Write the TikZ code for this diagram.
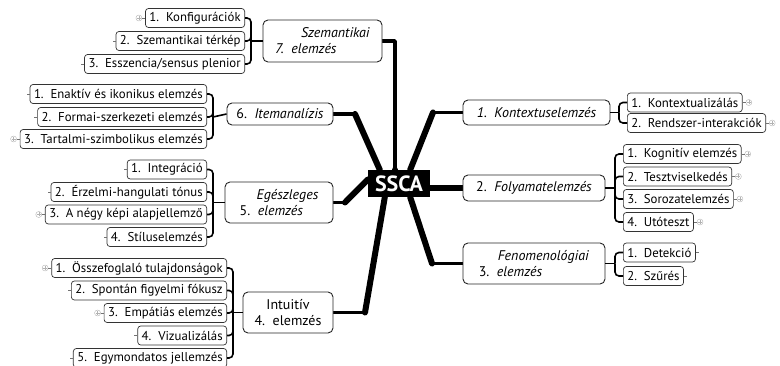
\documentclass[tikz,border=0pt]{standalone}
\usepackage{fontspec}
\setmainfont{PT Sans}
\usetikzlibrary{positioning,backgrounds}
\begin{document}
\begin{tikzpicture}[x=1pt,y=-1pt,
	raiz/.style={fill=black,text=white,font=\fontsize{22}{24}\selectfont\bfseries,inner sep=2pt,minimum width=62pt,minimum height=27pt},
	rama/.style={draw=black!85,line width=0.9pt,rounded corners=5pt,fill=white,font=\fontsize{14}{16}\selectfont,inner xsep=5pt,inner ysep=2pt},
	hoja/.style={draw=black!80,line width=0.7pt,rounded corners=3pt,fill=white,font=\fontsize{12.8}{14}\selectfont,inner xsep=4pt,inner ysep=1pt,minimum height=19pt},
	tronco/.style={line width=3.5pt,line join=round,line cap=round},
	cuna/.style={line width=6pt,line cap=round},
	llave/.style={line width=1.6pt,rounded corners=4pt},
	mas/.style={circle,draw=black!30,line width=0.4pt,minimum size=6pt,inner sep=0pt,
		path picture={\draw[black!30,line width=0.4pt]
			([xshift=-2pt]path picture bounding box.center) -- ([xshift=2pt]path picture bounding box.center)
			([yshift=-2pt]path picture bounding box.center) -- ([yshift=2pt]path picture bounding box.center);}},
	rabito/.style={draw=black!55,line width=0.5pt}]
	\useasboundingbox (0,0) rectangle (780,366);
	% Centro
		\node[raiz] (ssca) at (399,183.5) {SSCA};
	% Ramas principales
		\node[rama,minimum width=119pt,minimum height=42pt,align=left] (n7) at (322.5,41) {\hspace*{26pt}\textit{Szemantikai}\\\textit{7.\ \ elemzés}};
		\node[rama,minimum width=106pt,minimum height=22pt] (n6) at (280,114) {6.\ \ \textit{Itemanalízis}};
		\node[rama,minimum width=108pt,minimum height=41pt,align=left] (n5) at (279,202.5) {\hspace*{17pt}\textit{Egészleges}\\5.\ \ \textit{elemzés}};
		\node[rama,minimum width=90pt,minimum height=41pt,align=center] (n4) at (288,312.5) {Intuitív\\4.\ \ elemzés};
		\node[rama,minimum width=147pt,minimum height=25pt] (n1) at (536.5,112.5) {\textit{1.\ \ Kontextuselemzés}};
		\node[rama,minimum width=142pt,minimum height=26pt] (n2) at (534,188) {2.\ \ \textit{Folyamatelemzés}};
		\node[rama,minimum width=142pt,minimum height=41pt,align=left] (n3) at (534,263.5) {\hspace*{19pt}\textit{Fenomenológiai}\\3.\ \ \textit{elemzés}};
	% Troncos
		\coordinate (c7) at (395,41);
		\coordinate (c6) at (355,114);
		\coordinate (c5) at (345,202.5);
		\coordinate (c4) at (365,312.5);
		\coordinate (c1) at (433,112.5);
		\coordinate (c3) at (432,263.5);
		\begin{scope}[on background layer]
		\draw[tronco] (n7.east) -- (c7) -- (c7 |- ssca.north);
		\draw[cuna] ([yshift=-20pt]c7 |- ssca.north) -- (c7 |- ssca.north);
		\draw[tronco] (n6.east) -- (c6);
		\draw[cuna] (c6) -- ([xshift=12pt]ssca.north west);
		\draw[tronco] (n5.east) -- (c5);
		\draw[cuna] (c5) -- ([yshift=4pt]ssca.west);
		\draw[tronco] (n4.east) -- (c4);
		\draw[cuna] (c4) -- ([xshift=17pt]ssca.south west);
		\draw[tronco] (n1.west) -- (c1);
		\draw[cuna] (c1) -- ([xshift=-20pt]ssca.north east);
		\draw[cuna] (n2.west -| ssca.east) -- (n2.west);
		\draw[tronco] (n3.west) -- (c3);
		\draw[cuna] (c3) -- ([xshift=-20pt]ssca.south east);
		\end{scope}
	% Hojas 7
		\node[hoja,anchor=east] (h7a) at (245,18) {1.\ \ Konfigurációk};
		\node[hoja,anchor=east] (h7b) at (245,41) {2.\ \ Szemantikai térkép};
		\node[hoja,anchor=east] (h7c) at (245,64) {3.\ \ Esszencia/sensus plenior};
	% Hojas 6
		\node[hoja,anchor=east] (h6a) at (207,94) {1.\ \ Enaktív és ikonikus elemzés};
		\node[hoja,anchor=east] (h6b) at (207,117) {2.\ \ Formai-szerkezeti elemzés};
		\node[hoja,anchor=east] (h6c) at (207,139) {3.\ \ Tartalmi-szimbolikus elemzés};
	% Hojas 5
		\node[hoja,anchor=east] (h5a) at (207,169.5) {1.\ \ Integráció};
		\node[hoja,anchor=east] (h5b) at (207,192) {2.\ \ Érzelmi-hangulati tónus};
		\node[hoja,anchor=east] (h5c) at (207,214.5) {3.\ \ A négy képi alapjellemző};
		\node[hoja,anchor=east] (h5d) at (207,237) {4.\ \ Stíluselemzés};
	% Hojas 4
		\node[hoja,anchor=east] (h4a) at (227,268) {1.\ \ Összefoglaló tulajdonságok};
		\node[hoja,anchor=east] (h4b) at (227,290.5) {2.\ \ Spontán figyelmi fókusz};
		\node[hoja,anchor=east] (h4c) at (227,313) {3.\ \ Empátiás elemzés};
		\node[hoja,anchor=east] (h4d) at (227,335.5) {4.\ \ Vizualizálás};
		\node[hoja,anchor=east] (h4e) at (227,358) {5.\ \ Egymondatos jellemzés};
	% Hojas 1
		\node[hoja,anchor=west] (h1a) at (627,102.5) {1.\ \ Kontextualizálás};
		\node[hoja,anchor=west] (h1b) at (627,123) {2.\ \ Rendszer-interakciók};
	% Hojas 2
		\node[hoja,anchor=west] (h2a) at (623,154) {1.\ \ Kognitív elemzés};
		\node[hoja,anchor=west] (h2b) at (623,176.5) {2.\ \ Tesztviselkedés};
		\node[hoja,anchor=west] (h2c) at (623,199) {3.\ \ Sorozatelemzés};
		\node[hoja,anchor=west] (h2d) at (623,222) {4.\ \ Utóteszt};
	% Hojas 3
		\node[hoja,anchor=west] (h3a) at (623,252.5) {1.\ \ Detekció};
		\node[hoja,anchor=west] (h3b) at (623,276) {2.\ \ Szűrés};
	% Llaves
		\coordinate (j7) at (251,41);
		\coordinate (j6) at (213,117);
		\coordinate (j5) at (213,202.5);
		\coordinate (j4) at (233,312.5);
		\coordinate (j1) at (619,112.5);
		\coordinate (j2) at (615,188);
		\coordinate (j3) at (615,263.5);
		\draw[llave] (n7.west) -- (j7);
		\foreach \h in {a,b,c} \draw[llave] (j7) |- (h7\h.east);
		\draw[llave] (n6.west) -- (j6);
		\foreach \h in {a,b,c} \draw[llave] (j6) |- (h6\h.east);
		\draw[llave] (n5.west) -- (j5);
		\foreach \h in {a,b,c,d} \draw[llave] (j5) |- (h5\h.east);
		\draw[llave] (n4.west) -- (j4);
		\foreach \h in {a,b,c,d,e} \draw[llave] (j4) |- (h4\h.east);
		\draw[llave] (n1.east) -- (j1);
		\foreach \h in {a,b} \draw[llave] (j1) |- (h1\h.west);
		\draw[llave] (n2.east) -- (j2);
		\foreach \h in {a,b,c,d} \draw[llave] (j2) |- (h2\h.west);
		\draw[llave] (n3.east) -- (j3);
		\foreach \h in {a,b} \draw[llave] (j3) |- (h3\h.west);
	% Marcas
		\foreach \h in {7a,6c,5c,4a,4c} {
			\node[mas,left=3pt of h\h] (m\h) {};
			\draw[rabito] (m\h) -- (h\h);
		}
		\foreach \h in {1a,1b,2a,2b,2c,2d} {
			\node[mas,right=3pt of h\h] (m\h) {};
			\draw[rabito] (m\h) -- (h\h);
		}
		\foreach \h in {7b,7c,6a,6b,5a,5b,5d,4b,4d,4e}
			\draw[rabito] (h\h.west) -- +(-3,0);
		\foreach \h in {3a,3b}
			\draw[rabito] (h\h.east) -- +(3,0);
\end{tikzpicture}
\end{document}
